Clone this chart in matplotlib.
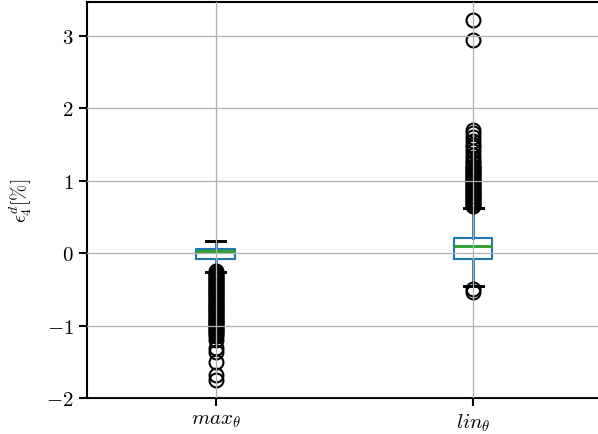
import matplotlib
matplotlib.use("Agg")
import matplotlib.pyplot as plt
from matplotlib.ticker import FuncFormatter

plt.rcParams['mathtext.fontset'] = 'cm'
plt.rcParams['font.family'] = 'serif'
plt.rcParams['font.serif'] = ['cmr10', 'DejaVu Serif']
plt.rcParams['axes.unicode_minus'] = False

# box statistics
labels = [r'$max_\theta$', r'$lin_\theta$']
q1 = [-0.08, -0.08]
med = [0.025, 0.093]
q3 = [0.06, 0.21]
whislo = [-0.26, -0.45]
whishi = [0.17, 0.63]

# outliers, estimated
fliers_max = [-0.25, -0.27, -0.29, -0.31, -0.33, -0.35, -0.37, -0.39, -0.41,
              -0.43, -0.45, -0.47, -0.49, -0.51, -0.53, -0.55, -0.57, -0.59,
              -0.61, -0.63, -0.65, -0.67, -0.69, -0.71, -0.73, -0.75, -0.77,
              -0.79, -0.81, -0.83, -0.85, -0.87, -0.89, -0.91, -0.93, -0.95,
              -0.97, -0.99, -1.01, -1.03, -1.05, -1.07, -1.09, -1.12, -1.15,
              -1.2, -1.31, -1.36, -1.5, -1.68, -1.75]
fliers_lin = [-0.5, -0.53,
              0.65, 0.67, 0.69, 0.71, 0.73, 0.75, 0.77, 0.79, 0.81, 0.83,
              0.85, 0.87, 0.89, 0.91, 0.93, 0.95, 0.97, 0.99, 1.01, 1.03,
              1.05, 1.07, 1.09, 1.11, 1.13, 1.15, 1.17, 1.19, 1.21, 1.24,
              1.27, 1.31, 1.35, 1.41, 1.46, 1.5, 1.55, 1.6, 1.66, 1.7,
              2.95, 3.22]

stats = []
for i, fl in enumerate([fliers_max, fliers_lin]):
    stats.append(dict(label=labels[i], q1=q1[i], med=med[i], q3=q3[i],
                      whislo=whislo[i], whishi=whishi[i], fliers=fl))

fig = plt.figure(figsize=(5.98, 4.35), dpi=100)
ax = fig.add_axes([0.1455, 0.0828, 0.861, 0.9103])

ax.bxp(stats, positions=[1, 2], widths=0.15,
       boxprops=dict(color='#1f77b4', lw=1.5),
       whiskerprops=dict(color='#1f77b4', lw=2.1),
       medianprops=dict(color='#2ca02c', lw=2.1),
       capprops=dict(color='k', lw=2.1),
       flierprops=dict(marker='o', markerfacecolor='none',
                       markeredgecolor='k', markersize=10, markeredgewidth=1.5))

ax.set_xlim(0.5, 2.5)
ax.grid(True, color='#b0b0b0', lw=0.9)
ax.set_axisbelow(False)
for s in ax.spines.values():
    s.set_linewidth(1.5)
ax.tick_params(length=5.5, width=1.5, labelsize=15, pad=4)
ax.set_yticks([-2, -1, 0, 1, 2, 3])
ax.yaxis.set_major_formatter(FuncFormatter(lambda v, p: r'$%d$' % v))
ax.set_ylabel(r'$\epsilon_4^d[\%]$', fontsize=14, labelpad=9)

fig.savefig('out.png', dpi=100)
